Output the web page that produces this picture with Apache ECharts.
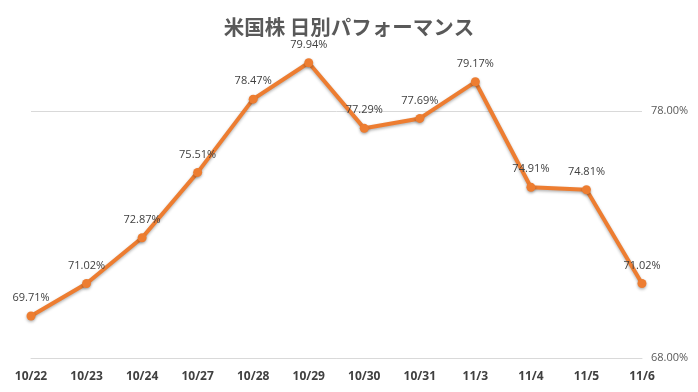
<!DOCTYPE html>
<html><head><meta charset="utf-8">
<script src="https://cdn.jsdelivr.net/npm/echarts@6/dist/echarts.min.js"></script>
<style>html,body{margin:0;padding:0;background:#fff}#c{width:698px;height:392px}</style>
</head><body><div id="c"></div>
<script>
const categories = ['10/22','10/23','10/24','10/27','10/28','10/29','10/30','10/31','11/3','11/4','11/5','11/6'];
const values = [69.71, 71.02, 72.87, 75.51, 78.47, 79.94, 77.29, 77.69, 79.17, 74.91, 74.81, 71.02];
const titleText = '米国株 日別パフォーマンス';
const yMin = 68, yMax = 81, yInterval = 10;

const chart = echarts.init(document.getElementById('c'), null, {renderer:'canvas'});
chart.setOption({
  animation:false,
  backgroundColor:'#fff',
  title:{text:titleText,left:'center',top:12,
    textStyle:{fontFamily:'Noto Sans CJK JP',fontSize:20.5,fontWeight:'bold',color:'#595959'}},
  grid:{left:31,right:56,top:36.5,bottom:33.7,containLabel:false},
  xAxis:{type:'category',data:categories,boundaryGap:false,
    axisLine:{show:true,lineStyle:{color:'#d9d9d9',width:1}},
    axisTick:{show:false},
    axisLabel:{color:'#404040',fontFamily:'Open Sans',fontWeight:'bold',fontSize:12,margin:12}},
  yAxis:{type:'value',position:'right',min:yMin,max:yMax,interval:yInterval,
    axisLine:{show:false},axisTick:{show:false},
    splitLine:{show:true,showMaxLine:false,lineStyle:{color:'#d9d9d9',width:1}},
    axisLabel:{showMaxLabel:false,color:'#595959',fontFamily:'Open Sans',fontSize:11,margin:9,
      formatter:v=>v.toFixed(2)+'%'}},
  series:[{type:'line',data:values,symbol:'circle',symbolSize:9,
    lineStyle:{color:'#ED7D31',width:4,shadowColor:'rgba(0,0,0,0.3)',shadowBlur:3,shadowOffsetY:1.5},
    itemStyle:{color:'#ED7D31',shadowColor:'rgba(0,0,0,0.3)',shadowBlur:3,shadowOffsetY:1.5},
    label:{show:true,position:'top',distance:8,color:'#404040',fontFamily:'Open Sans',fontSize:11,
      formatter:p=>p.value.toFixed(2)+'%'}}]
});
</script></body></html>
